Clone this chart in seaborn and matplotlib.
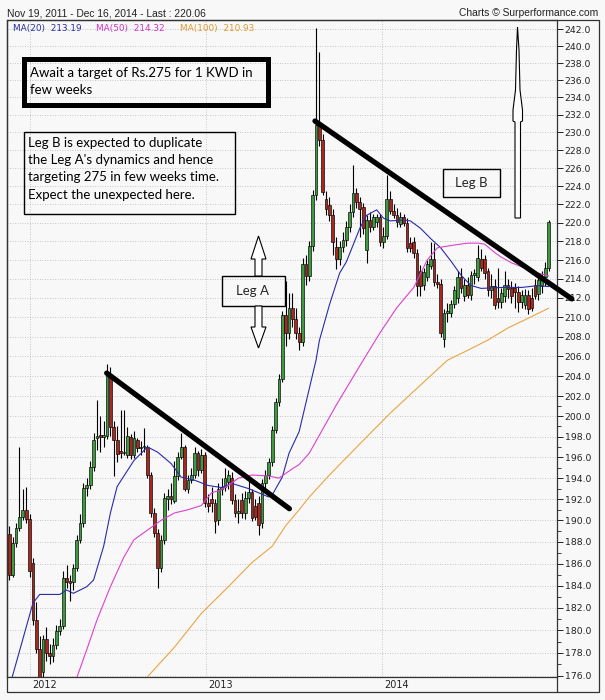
import numpy as np
import pandas as pd
import seaborn as sns
import matplotlib.pyplot as plt
import matplotlib.dates as mdates
import matplotlib.transforms as mtransforms
from matplotlib.patches import Rectangle, Polygon
from matplotlib.ticker import FixedLocator, FormatStrFormatter, NullFormatter

# Weekly KWD/INR candles, Nov 19 2011 - Dec 16 2014
start_date = "2011-11-19"
opens = [188.7, 185.0, 187.9, 189.3, 190.3, 191.0, 190.1, 186.1, 180.9, 178.3,
         176.3, 179.2, 178.0, 177.7, 178.7, 179.9, 180.4, 184.7, 184.4, 184.3,
         185.6, 188.2, 189.8, 193.1, 193.3, 195.1, 197.9, 198.1, 198.0, 198.1,
         204.2, 198.9, 197.7, 196.6, 196.4, 196.2, 198.0, 196.2, 197.7, 196.9,
         197.0, 197.0, 194.3, 190.7, 188.8, 185.6, 188.2, 192.0, 192.3, 191.8,
         194.2, 196.0, 197.0, 193.0, 193.8, 194.3, 196.4, 194.8, 196.2, 191.6,
         192.0, 191.6, 190.0, 193.0, 193.2, 193.6, 194.0, 191.9, 190.7, 191.9,
         190.7, 192.1, 192.7, 191.4, 191.6, 189.8, 193.5, 194.3, 195.5, 198.7,
         201.4, 203.7, 210.2, 208.4, 211.0, 209.8, 208.4, 207.4, 215.6, 214.3,
         217.5, 223.0, 230.8, 229.1, 222.6, 221.9, 220.8, 217.4, 216.1, 217.4,
         218.1, 219.5, 221.2, 223.2, 222.3, 221.7, 217.1, 220.3, 219.5, 220.1,
         220.6, 217.9, 218.6, 222.6, 221.3, 220.8, 219.9, 220.6, 220.0, 217.8,
         217.9, 216.7, 214.8, 213.4, 214.2, 215.4, 216.1, 213.7, 213.5, 207.8,
         210.4, 210.4, 211.4, 212.0, 214.2, 212.2, 213.4, 212.3, 214.4, 214.2,
         216.1, 216.1, 214.8, 212.8, 213.3, 212.0, 211.6, 212.2, 213.4, 213.0,
         213.0, 212.6, 211.6, 211.3, 212.3, 212.0, 213.4, 212.4, 213.3, 214.2,
         215.2]
highs = [189.5, 188.5, 189.8, 197.0, 193.0, 193.2, 190.6, 186.5, 182.5, 179.5,
         179.6, 180.3, 178.8, 179.3, 180.5, 181.0, 185.3, 185.9, 185.0, 186.0,
         188.6, 190.6, 193.5, 194.0, 195.6, 198.4, 201.6, 200.0, 199.5, 205.2,
         204.9, 199.5, 199.0, 200.6, 200.6, 198.9, 198.3, 198.6, 197.9, 197.6,
         198.8, 197.2, 194.6, 191.2, 189.2, 188.6, 192.6, 193.0, 193.5, 195.6,
         196.5, 198.4, 197.2, 194.3, 195.0, 197.0, 196.6, 196.8, 196.5, 192.5,
         193.2, 192.0, 193.5, 194.0, 195.0, 194.8, 194.6, 192.5, 192.0, 192.6,
         192.8, 193.8, 193.0, 192.0, 192.3, 193.9, 194.8, 195.9, 199.0, 201.8,
         204.2, 210.6, 213.8, 212.5, 212.5, 211.0, 209.0, 216.2, 216.5, 218.0,
         223.6, 242.2, 239.3, 229.8, 223.5, 222.8, 221.5, 218.5, 218.0, 219.0,
         220.2, 222.0, 226.4, 223.8, 222.8, 222.2, 220.8, 221.2, 221.0, 221.0,
         221.0, 219.5, 225.2, 223.5, 222.0, 221.6, 221.2, 221.0, 220.5, 218.5,
         218.5, 217.2, 215.5, 215.2, 216.0, 217.9, 217.8, 214.5, 214.0, 210.8,
         211.5, 211.8, 213.3, 214.8, 215.2, 214.0, 214.2, 214.8, 215.0, 217.6,
         217.2, 216.5, 215.2, 214.5, 214.0, 215.2, 213.0, 214.8, 214.0, 213.8,
         213.6, 213.2, 212.8, 212.9, 212.8, 213.0, 214.0, 214.2, 214.8, 215.8,
         220.3]
lows = [184.5, 184.8, 187.5, 189.0, 190.0, 189.8, 184.8, 180.5, 178.0, 174.5,
        175.8, 177.3, 177.0, 177.2, 178.3, 179.6, 180.1, 183.8, 182.6, 183.6,
        185.3, 187.9, 189.4, 192.3, 193.0, 194.7, 196.7, 196.5, 197.0, 197.8,
        198.1, 194.2, 195.5, 195.9, 196.2, 195.9, 195.8, 195.9, 196.5, 196.2,
        196.5, 194.0, 190.3, 188.5, 183.8, 185.2, 187.8, 191.0, 191.5, 191.6,
        193.8, 195.8, 192.8, 192.6, 193.5, 194.0, 194.2, 194.5, 191.3, 190.8,
        190.8, 188.8, 189.6, 192.4, 192.8, 193.0, 191.5, 190.3, 189.8, 190.2,
        190.1, 191.6, 189.9, 190.0, 188.6, 189.3, 193.0, 193.9, 195.2, 198.4,
        201.0, 203.4, 207.0, 207.8, 209.0, 207.8, 206.6, 207.0, 213.4, 213.8,
        217.0, 222.5, 228.5, 223.0, 220.8, 220.2, 216.5, 215.0, 215.5, 216.8,
        217.5, 219.0, 220.6, 221.6, 218.5, 218.8, 215.7, 219.0, 219.2, 219.5,
        217.5, 217.3, 218.2, 221.0, 220.5, 219.5, 219.5, 219.6, 216.8, 216.8,
        216.2, 212.2, 212.2, 212.8, 213.8, 215.0, 213.3, 213.0, 208.0, 206.9,
        209.5, 210.0, 211.0, 211.5, 212.5, 211.7, 212.0, 211.8, 213.5, 213.8,
        214.8, 214.0, 212.2, 212.0, 210.8, 211.0, 211.0, 211.6, 212.0, 211.5,
        211.0, 210.5, 211.0, 210.9, 210.3, 210.6, 211.9, 211.8, 212.5, 213.2,
        214.8]
closes = [185.0, 187.9, 189.3, 190.3, 191.0, 190.1, 185.3, 180.9, 178.3, 175.2,
          179.2, 178.0, 177.7, 178.7, 179.9, 180.4, 184.7, 184.3, 184.2, 185.6,
          188.2, 189.8, 193.1, 193.3, 195.1, 197.7, 198.1, 198.0, 198.1, 204.2,
          198.9, 197.7, 196.3, 196.4, 196.5, 198.1, 196.2, 197.9, 196.9, 197.0,
          197.0, 194.3, 190.7, 188.8, 185.6, 188.2, 192.1, 192.3, 192.0, 194.2,
          196.0, 197.0, 193.0, 193.8, 194.3, 196.4, 194.8, 196.2, 191.6, 191.4,
          191.6, 189.9, 193.0, 193.2, 194.0, 194.3, 191.9, 190.7, 190.9, 190.7,
          192.1, 192.7, 190.2, 190.3, 189.6, 193.5, 194.3, 195.5, 198.7, 201.4,
          203.7, 210.2, 208.4, 211.0, 209.8, 208.4, 207.4, 215.6, 214.3, 217.5,
          223.0, 230.8, 229.1, 223.4, 221.5, 220.8, 217.9, 216.1, 217.4, 218.1,
          219.5, 221.2, 223.2, 222.3, 221.5, 219.4, 220.3, 219.5, 220.6, 220.6,
          217.9, 218.6, 222.6, 221.3, 220.8, 220.1, 220.6, 220.0, 217.3, 217.3,
          216.7, 213.3, 213.3, 214.7, 215.6, 216.1, 213.7, 213.5, 208.4, 210.4,
          210.6, 211.4, 212.8, 214.2, 213.0, 213.4, 212.3, 214.4, 214.6, 216.2,
          215.2, 214.6, 212.8, 213.2, 211.3, 211.6, 212.5, 213.4, 212.9, 212.2,
          212.6, 211.6, 212.3, 212.3, 210.8, 211.0, 212.2, 213.9, 214.2, 215.2,
          220.06]

# moving averages, read at sample weeks
ma20_weeks = [0, 7, 9, 15, 17, 19, 23, 25, 28, 30, 32, 37, 41, 44, 48, 51, 55, 59, 63, 66,
              71, 74, 77, 78, 81, 83, 86, 91, 92, 95, 98, 100, 104, 106, 109, 111, 113, 117, 119, 122,
              125, 128, 131, 134, 137, 140, 146, 152, 157, 160]
ma20_vals = [175.0, 182.4, 183.2, 183.2, 183.6, 183.3, 183.9, 184.5, 187.6, 190.7,
             193.2, 195.7, 197.0, 196.5, 195.4, 194.1, 193.8, 193.3, 193.1, 193.5,
             193.0, 192.6, 192.2, 192.4, 194.1, 196.4, 198.5, 205.6, 207.6, 211.3,
             214.6, 215.8, 219.4, 220.8, 221.4, 220.5, 220.2, 220.3, 220.2, 219.4,
             218.3, 217.3, 215.9, 214.4, 213.3, 213.0, 213.1, 213.1, 213.3, 213.19]
ma50_weeks = [19, 23, 26, 30, 34, 37, 41, 45, 49, 53, 57, 60, 63, 65, 68, 72, 77, 80, 84, 86,
              89, 97, 105, 110, 115, 120, 124, 127, 132, 136, 139, 141, 144, 146, 149, 154, 157, 160]
ma50_vals = [175.0, 178.3, 180.9, 183.9, 186.6, 188.2, 189.1, 190.0, 190.7, 191.0,
             191.4, 192.6, 192.9, 193.3, 194.0, 194.3, 194.2, 194.0, 194.9, 195.3,
             196.4, 201.1, 205.6, 208.4, 211.0, 213.1, 216.0, 217.3, 217.6, 217.8,
             217.8, 217.7, 216.8, 216.3, 215.7, 215.0, 214.6, 214.32]
ma100_weeks = [40, 49, 57, 65, 72, 78, 82, 86, 89, 95, 104, 113, 122, 130, 136, 142, 148, 154, 160]
ma100_vals = [175.6, 178.5, 181.5, 183.9, 186.1, 187.6, 189.5, 191.0, 192.2, 194.3,
              197.3, 200.3, 203.1, 205.6, 206.6, 207.65, 208.9, 209.9, 210.93]

# hand drawn trend lines (week number, price)
trend_a_weeks = [28.9, 83.1]
trend_a_prices = [204.3, 191.1]
trend_b_weeks = [90.7, 166.9]
trend_b_prices = [231.3, 211.9]

y_ticks = list(range(176, 243, 2))
y_minor_ticks = list(range(177, 202, 2))
year_labels = ["2012", "2013", "2014"]
year_starts = ["2012-01-01", "2013-01-01", "2014-01-01"]

title_left = "Nov 19, 2011 - Dec 16, 2014 - Last : 220.06"
title_right = "Charts © Surperformance.com"
ma_labels = ["MA(20)  213.19", "MA(50)  214.32", "MA(100)  210.93"]
note_target = ["Await a target of Rs.275 for 1 KWD in", "few weeks"]
note_legs = ["Leg B is expected to duplicate", "the Leg A's dynamics and hence",
             "targeting 275 in few weeks time.", "Expect the unexpected here."]

# colours
bg = "#f8f8f8"
green = "#3e9a3e"
red = "#a8281e"
c_ma20 = "#2b2ba8"
c_ma50 = "#dd40d0"
c_ma100 = "#eba542"

sns.set_theme(style="white")
plt.rcParams["font.family"] = ["DejaVu Sans"]

W, H = 605, 700
fig = plt.figure(figsize=(W / 100, H / 100), dpi=100, facecolor=bg)
ax = fig.add_axes([7 / W, 1 - 677 / H, 550 / W, 657 / H])
ax.set_facecolor(bg)


def fx(x):
    return x / W


def fy(y):
    return 1 - y / H


# candles
dates = pd.date_range(start_date, periods=len(closes), freq="7D")
x = mdates.date2num(dates)
x0 = x[0]
o = np.array(opens)
h = np.array(highs)
l = np.array(lows)
c = np.array(closes)
up = c >= o
body_lo = np.minimum(o, c)
body_h = np.maximum(np.abs(c - o), 0.12)

ax.vlines(x, l, h, color="black", lw=0.8, zorder=2)
ax.bar(x[up], body_h[up], bottom=body_lo[up], width=5.7, color=green,
       edgecolor="black", linewidth=0.45, zorder=3)
ax.bar(x[~up], body_h[~up], bottom=body_lo[~up], width=5.7, color=red,
       edgecolor="black", linewidth=0.45, zorder=3)

# moving averages
for weeks, vals, col in [(ma20_weeks, ma20_vals, c_ma20),
                         (ma50_weeks, ma50_vals, c_ma50),
                         (ma100_weeks, ma100_vals, c_ma100)]:
    sns.lineplot(x=x[weeks], y=vals, ax=ax, color=col, lw=0.8, zorder=4)

# trend lines
ax.plot(x0 + np.array(trend_a_weeks) * 7, trend_a_prices, color="black", lw=3.8,
        solid_capstyle="round", zorder=6)
ax.plot(x0 + np.array(trend_b_weeks) * 7, trend_b_prices, color="black", lw=3.8,
        solid_capstyle="round", zorder=6, clip_on=False)

# axes
ax.set_yscale("log")
ax.set_ylim(175.9, 243.1)
ax.set_xlim(x0 - 0.68 * 7, x0 + 162.5 * 7)
ax.yaxis.set_major_locator(FixedLocator(y_ticks))
ax.yaxis.set_major_formatter(FormatStrFormatter("%.1f"))
ax.yaxis.set_minor_locator(FixedLocator(y_minor_ticks))
ax.yaxis.set_minor_formatter(NullFormatter())
ax.yaxis.tick_right()
ax.tick_params(axis="y", which="major", direction="out", length=4, width=0.7,
               labelsize=6.7, pad=1.5, colors="#222222", right=True, left=False)
ax.tick_params(axis="y", which="minor", direction="out", length=3, width=0.6,
               colors="#222222", right=True, left=False)

year_x = mdates.date2num(pd.to_datetime(year_starts))
ax.set_xticks(year_x)
ax.set_xticklabels([])
ax.tick_params(axis="x", length=0)
ax.grid(True, which="major", color="#b5b5b5", linestyle=(0, (1, 2)), lw=0.6)
ax.set_axisbelow(True)
for s in ax.spines.values():
    s.set_color("#333333")
    s.set_linewidth(0.9)

trans = mtransforms.blended_transform_factory(ax.transData, ax.transAxes)
for xv, lab in zip(year_x, year_labels):
    ax.text(xv + 4, -0.0115, lab, transform=trans, ha="left", va="center",
            fontsize=7, color="#222222")

# outer frame
fig.add_artist(Rectangle((fx(7), fy(692)), fx(592), 672 / H, transform=fig.transFigure,
                         fill=False, edgecolor="#333333", lw=0.9))
fig.add_artist(plt.Line2D([fx(557), fx(557)], [fy(677), fy(692)], transform=fig.transFigure,
                          color="#333333", lw=0.9))

# header
fig.text(fx(7), fy(13), title_left, ha="left", va="center", fontsize=7.4,
         family="Liberation Sans", color="#222222")
fig.text(fx(598), fy(13), title_right, ha="right", va="center", fontsize=7.4,
         family="Liberation Sans", color="#222222")
for xp, lab, col in zip([13, 96, 180], ma_labels, [c_ma20, "#cc33cc", "#e09a30"]):
    fig.text(fx(xp), fy(29), lab, ha="left", va="center", fontsize=6.4, color=col)

# annotation boxes
fig.add_artist(Rectangle((fx(23.5), fy(105)), (268 - 23.5) / W, (105 - 58.5) / H,
                         transform=fig.transFigure, fill=False, edgecolor="black", lw=3.6,
                         joinstyle="miter", zorder=7))
for yy, line in zip([73, 90], note_target):
    fig.text(fx(30), fy(yy), line, ha="left", va="center", fontsize=9.5, family="Lato",
             color="black", zorder=7)

fig.add_artist(Rectangle((fx(23.5), fy(214)), (235 - 23.5) / W, (214 - 132) / H,
                         transform=fig.transFigure, fill=False, edgecolor="black", lw=1.0,
                         zorder=7))
for yy, line in zip([143, 160, 177, 195], note_legs):
    fig.text(fx(28), fy(yy), line, ha="left", va="center", fontsize=9.5, family="Lato",
             color="black", zorder=7)

fig.add_artist(Rectangle((fx(222), fy(306)), 63 / W, 30 / H, transform=fig.transFigure,
                         fill=False, edgecolor="black", lw=1.0, zorder=7))
fig.text(fx(253), fy(291), "Leg A", ha="center", va="center", fontsize=9.5, family="Lato", zorder=7)
fig.add_artist(Rectangle((fx(443), fy(197)), 57 / W, 28 / H, transform=fig.transFigure,
                         fill=False, edgecolor="black", lw=1.0, zorder=7))
fig.text(fx(471), fy(183), "Leg B", ha="center", va="center", fontsize=9.5, family="Lato", zorder=7)

# hollow arrows
arrows = [
    [(258.5, 236), (266, 259), (262, 259), (262, 276), (255, 276), (255, 259), (251, 259)],
    [(255, 306), (262, 306), (262, 327), (266, 327), (258.5, 348), (251, 327), (255, 327)],
    [(517.5, 27), (519, 50), (520, 90), (522.5, 110), (522.5, 121), (520.5, 122), (520.5, 218),
     (515, 218), (515, 122), (513, 121), (513, 110), (515.5, 90), (516.5, 50)],
]
for pts in arrows:
    fig.add_artist(Polygon([(fx(a), fy(b)) for a, b in pts], closed=True,
                           transform=fig.transFigure, facecolor="white", edgecolor="black",
                           lw=0.8, zorder=7))

fig.savefig("out.png", dpi=100, facecolor=fig.get_facecolor())
